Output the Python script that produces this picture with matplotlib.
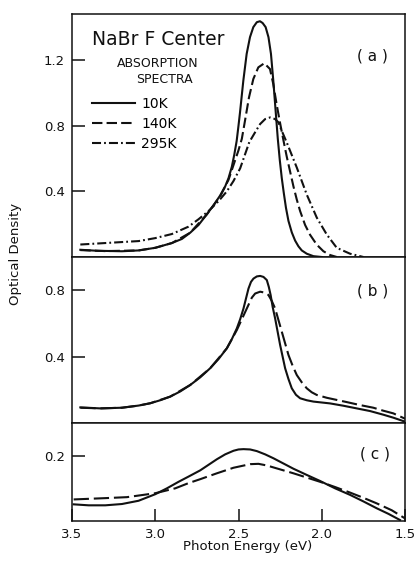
import matplotlib
matplotlib.use("Agg")
import matplotlib.pyplot as plt

plt.rcParams['font.family'] = ['DejaVu Sans']
plt.rcParams['lines.scale_dashes'] = False

# ---------------- data ----------------
# Panel (a): absorption spectra at three temperatures
e_a_10 = [3.45, 3.35, 3.20, 3.10, 3.00, 2.90, 2.84, 2.79, 2.74, 2.69, 2.65, 2.61, 2.58, 2.56,
          2.54, 2.525, 2.511, 2.50, 2.491, 2.471, 2.451, 2.431, 2.411, 2.39, 2.371, 2.355, 2.337,
          2.32, 2.305, 2.291, 2.277, 2.264, 2.252, 2.24, 2.228, 2.215, 2.20, 2.18, 2.16, 2.14,
          2.12, 2.09, 2.05, 2.00]
od_a_10 = [0.044, 0.038, 0.035, 0.040, 0.056, 0.085, 0.11, 0.148, 0.195, 0.26, 0.315, 0.375, 0.43, 0.48,
           0.55, 0.625, 0.707, 0.80, 0.88, 1.074, 1.237, 1.339, 1.40, 1.43, 1.436, 1.425, 1.40,
           1.339, 1.237, 1.074, 0.89, 0.72, 0.59, 0.48, 0.39, 0.30, 0.22, 0.15, 0.10, 0.065,
           0.04, 0.02, 0.005, 0.0]

e_a_140 = [3.45, 3.30, 3.10, 3.00, 2.90, 2.79, 2.69, 2.61, 2.56, 2.53, 2.50, 2.48, 2.461, 2.437,
           2.411, 2.381, 2.345, 2.311, 2.291, 2.271, 2.251, 2.23, 2.21, 2.19, 2.17, 2.15, 2.13,
           2.10, 2.07, 2.03, 1.99, 1.95, 1.91]
od_a_140 = [0.042, 0.036, 0.040, 0.056, 0.085, 0.148, 0.26, 0.37, 0.47, 0.56, 0.65, 0.72, 0.83, 0.972,
            1.084, 1.155, 1.18, 1.145, 1.053, 0.93, 0.82, 0.71, 0.61, 0.52, 0.43, 0.35, 0.28,
            0.195, 0.135, 0.075, 0.035, 0.012, 0.0]

e_a_295 = [3.45, 3.30, 3.10, 3.00, 2.90, 2.80, 2.74, 2.68, 2.62, 2.57, 2.53, 2.49, 2.435, 2.40,
           2.37, 2.34, 2.31, 2.28, 2.26, 2.24, 2.21, 2.15, 2.09, 2.03, 1.97, 1.91, 1.83, 1.75]
od_a_295 = [0.076, 0.085, 0.097, 0.115, 0.14, 0.185, 0.23, 0.28, 0.34, 0.40, 0.463, 0.54, 0.70, 0.76,
            0.81, 0.84, 0.85, 0.84, 0.82, 0.768, 0.697, 0.545, 0.38, 0.24, 0.137, 0.056, 0.02, 0.0]

# Panel (b)
e_b_solid = [3.45, 3.33, 3.20, 3.10, 3.03, 2.97, 2.91, 2.85, 2.79, 2.73, 2.67, 2.62, 2.57, 2.54,
             2.51, 2.49, 2.47, 2.455, 2.44, 2.425, 2.41, 2.39, 2.37, 2.35, 2.33, 2.318, 2.307,
             2.295, 2.28, 2.265, 2.25, 2.235, 2.22, 2.20, 2.18, 2.155, 2.13, 2.09, 2.05, 1.95,
             1.87, 1.79, 1.71, 1.63, 1.57, 1.50]
od_b_solid = [0.094, 0.088, 0.092, 0.105, 0.119, 0.137, 0.159, 0.19, 0.229, 0.275, 0.33, 0.385, 0.45, 0.505,
              0.57, 0.625, 0.69, 0.75, 0.81, 0.85, 0.87, 0.883, 0.886, 0.880, 0.861, 0.82, 0.771,
              0.70, 0.63, 0.55, 0.47, 0.40, 0.33, 0.265, 0.209, 0.17, 0.149, 0.137, 0.129, 0.118,
              0.104, 0.088, 0.072, 0.05, 0.032, 0.008]

e_b_dash = [3.45, 3.33, 3.20, 3.10, 3.03, 2.91, 2.79, 2.67, 2.57, 2.51, 2.48, 2.45, 2.42, 2.40,
            2.37, 2.34, 2.32, 2.30, 2.28, 2.26, 2.24, 2.22, 2.20, 2.175, 2.15, 2.12, 2.09, 2.06,
            2.03, 1.97, 1.85, 1.77, 1.69, 1.63, 1.57, 1.50]
od_b_dash = [0.092, 0.088, 0.092, 0.105, 0.119, 0.159, 0.229, 0.33, 0.45, 0.56, 0.625, 0.69, 0.755, 0.78,
             0.791, 0.785, 0.771, 0.735, 0.69, 0.62, 0.55, 0.48, 0.41, 0.345, 0.289, 0.245, 0.209, 0.185,
             0.169, 0.152, 0.126, 0.108, 0.092, 0.074, 0.058, 0.026]

# Panel (c)
e_c_solid = [3.49, 3.40, 3.30, 3.20, 3.10, 3.00, 2.93, 2.86, 2.80, 2.73, 2.68, 2.63, 2.58, 2.53,
             2.50, 2.47, 2.43, 2.39, 2.34, 2.29, 2.23, 2.17, 2.09, 2.01, 1.92, 1.83, 1.75, 1.67,
             1.60, 1.53]
od_c_solid = [0.051, 0.048, 0.048, 0.052, 0.062, 0.082, 0.100, 0.120, 0.136, 0.155, 0.172, 0.189, 0.204, 0.215,
              0.219, 0.220, 0.219, 0.214, 0.204, 0.192, 0.176, 0.160, 0.141, 0.1225, 0.10, 0.08, 0.06, 0.039,
              0.022, 0.003]

e_c_dash = [3.49, 3.30, 3.17, 3.00, 2.88, 2.80, 2.73, 2.63, 2.53, 2.43, 2.38, 2.33, 2.25, 2.17,
            2.09, 2.01, 1.92, 1.83, 1.75, 1.67, 1.58, 1.50]
od_c_dash = [0.066, 0.070, 0.073, 0.085, 0.10, 0.116, 0.128, 0.146, 0.163, 0.174, 0.175, 0.170, 0.158, 0.146,
             0.133, 0.12, 0.104, 0.087, 0.071, 0.054, 0.033, 0.008]

x_ticks = [3.5, 3.0, 2.5, 2.0, 1.5]
x_ticklabels = ["3.5", "3.0", "2.5", "2.0", "1.5"]
yticks_a = [0.4, 0.8, 1.2]
yticks_b = [0.4, 0.8]
yticks_c = [0.2]
legend_labels = ["10K", "140K", "295K"]

# ---------------- figure ----------------
fig = plt.figure(figsize=(4.19, 5.62), dpi=100)
W, H = 419, 562
L, R = 72, 405


def make_ax(top, bottom):
    return fig.add_axes([L / W, 1 - bottom / H, (R - L) / W, (bottom - top) / H])


ax_a = make_ax(14, 257)
ax_b = make_ax(257, 423)
ax_c = make_ax(423, 521)

ink = '#111111'
lw = 1.5
dash_a = (0, (7.5, 3.0))
dash_bc = (0, (11, 3.5))
dashdot = (0, (6.5, 2.2, 1.3, 2.2))

ax_a.plot(e_a_10, od_a_10, color=ink, lw=lw, ls='-', label=legend_labels[0])
ax_a.plot(e_a_140, od_a_140, color=ink, lw=lw, ls=dash_a, label=legend_labels[1])
ax_a.plot(e_a_295, od_a_295, color=ink, lw=lw, ls=dashdot, label=legend_labels[2])

ax_b.plot(e_b_solid, od_b_solid, color=ink, lw=lw, ls='-')
ax_b.plot(e_b_dash, od_b_dash, color=ink, lw=lw, ls=dash_bc)

ax_c.plot(e_c_solid, od_c_solid, color=ink, lw=lw, ls='-')
ax_c.plot(e_c_dash, od_c_dash, color=ink, lw=lw, ls=dash_bc)

ax_a.set_ylim(0, 1.48)
ax_b.set_ylim(0, 1.0)
ax_c.set_ylim(0, 0.30)

for ax, yt in ((ax_a, yticks_a), (ax_b, yticks_b), (ax_c, yticks_c)):
    ax.set_xlim(3.5, 1.5)
    ax.set_yticks(yt)
    ax.set_yticklabels(["%.1f" % v for v in yt])
    for s in ax.spines.values():
        s.set_linewidth(1.1)
        s.set_color(ink)
    ax.tick_params(axis='y', direction='in', length=9, width=1.1, pad=5,
                   labelsize=9.5, colors=ink)
    ax.tick_params(axis='x', direction='in', length=9, width=1.1, pad=5,
                   labelsize=9.5, colors=ink)

for ax in (ax_a, ax_b):
    ax.set_xticks([])

ax_c.set_xticks(x_ticks)
ax_c.set_xticklabels(x_ticklabels)

# texts
ax_a.text(0.059, 0.871, "NaBr F Center", transform=ax_a.transAxes, fontsize=13.5,
          ha='left', va='baseline', color=ink)
ax_a.text(0.258, 0.780, "ABSORPTION", transform=ax_a.transAxes, fontsize=9,
          ha='center', va='baseline', color=ink)
ax_a.text(0.278, 0.718, "SPECTRA", transform=ax_a.transAxes, fontsize=9,
          ha='center', va='baseline', color=ink)

ax_a.legend(loc='upper left', bbox_to_anchor=(0.059, 0.66), frameon=False,
            borderpad=0, borderaxespad=0, handlelength=3.1, handletextpad=0.45,
            labelspacing=0.45, fontsize=10)

ax_a.text(0.901, 0.827, "( a )", transform=ax_a.transAxes, fontsize=11,
          ha='center', va='center', color=ink)
ax_b.text(0.904, 0.796, "( b )", transform=ax_b.transAxes, fontsize=11,
          ha='center', va='center', color=ink)
ax_c.text(0.910, 0.684, "( c )", transform=ax_c.transAxes, fontsize=11,
          ha='center', va='center', color=ink)

fig.text(16 / W, 1 - 254 / H, "Optical Density", rotation=90, fontsize=9.5,
         ha='center', va='center', color=ink)
fig.text(248 / W, 1 - 550 / H, "Photon Energy (eV)", fontsize=9.5,
         ha='center', va='baseline', color=ink)

fig.savefig("out.png", dpi=100, facecolor='white')
